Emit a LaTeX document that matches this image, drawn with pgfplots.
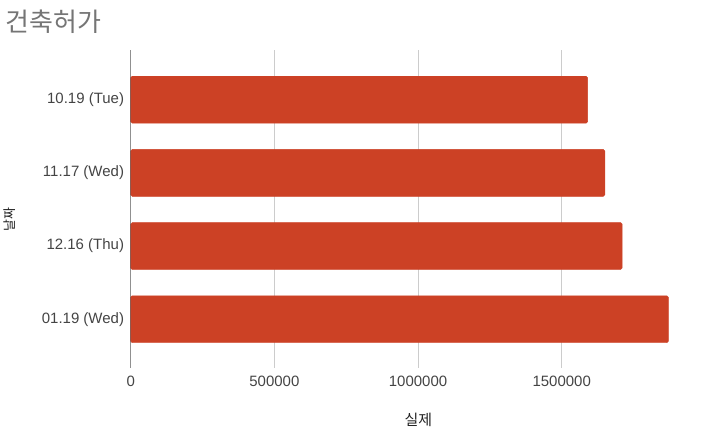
\documentclass[border=0pt]{standalone}
\usepackage{fontspec}
\setmainfont{Liberation Sans}
\newfontfamily\kr{Noto Sans CJK KR}
\usepackage{pgfplots}
\pgfplotsset{compat=1.18}
\definecolor{barred}{HTML}{CC4125}
\definecolor{gridgray}{HTML}{CCCCCC}
\definecolor{ticktext}{HTML}{444444}
\definecolor{titlegray}{HTML}{757575}
\definecolor{axisdark}{HTML}{222222}
\begin{document}
\begin{tikzpicture}
\begin{axis}[
  name=ax, at={(0,0)}, anchor=south west,
  scale only axis, width=561bp, height=318bp,
  xbar, bar width=47bp,
  xmin=0, xmax=1950000, ymin=-0.66, ymax=3.68,
  ytick={0,1,2,3},
  yticklabels={01.19 (Wed),12.16 (Thu),11.17 (Wed),10.19 (Tue)},
  xtick={0,500000,1000000,1500000},
  scaled x ticks=false,
  /pgf/number format/assume math mode=true,
  xticklabel style={/pgf/number format/fixed, /pgf/number format/1000 sep={}, yshift=-5bp, font=\fontsize{15bp}{17bp}\selectfont, text=ticktext},
  yticklabel style={xshift=-3.2bp, font=\fontsize{15bp}{17bp}\selectfont, text=ticktext},
  axis line style={draw=none},
  major tick length=0pt,
  xmajorgrids, grid style={gridgray, line width=1bp},
  ymajorgrids=false,
]
\addplot[fill=barred, draw=barred, rounded corners=1.5bp] coordinates {
  (1871000,0) (1710000,1) (1650000,2) (1590000,3)
};
\draw[axisdark, line width=1bp] (axis cs:0,-0.66) -- (axis cs:0,3.68);
\end{axis}
\node[anchor=west, inner sep=0, text=titlegray, font=\kr\fontsize{26bp}{30bp}\selectfont] at ([xshift=-125.7bp, yshift=346.5bp]ax.south west) {건축허가};
\node[text=black!87, font=\kr\fontsize{15bp}{17bp}\selectfont] at ([xshift=288bp, yshift=-52bp]ax.south west) {실제};
\node[rotate=90, text=black!87, font=\kr\fontsize{13bp}{15bp}\selectfont] at ([xshift=-121.7bp, yshift=148bp]ax.south west) {날짜};
\path ([xshift=-129.7bp,yshift=-73bp]ax.south west) rectangle ([xshift=14bp,yshift=50bp]ax.north east);
\end{tikzpicture}
\end{document}
